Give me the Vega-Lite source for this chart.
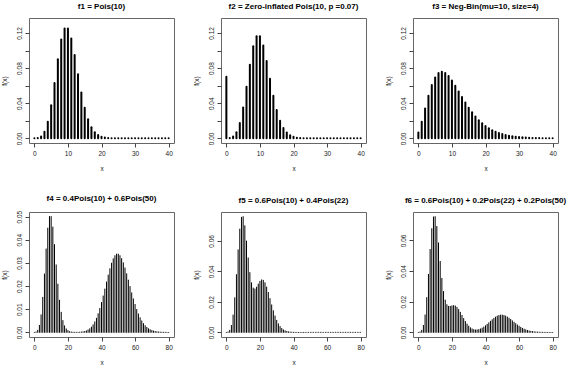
{
  "$schema": "https://vega.github.io/schema/vega-lite/v6.json",
  "padding": {"left": 0, "top": 2, "right": 0, "bottom": 0},
  "background": "white",
  "config": {
    "font": "Liberation Sans",
    "view": {"stroke": "#666", "strokeWidth": 1},
    "axis": {"domain": false, "grid": false, "tickColor": "#444", "tickSize": 4, "labelFont": "Liberation Sans", "labelFontSize": 6.5, "labelColor": "#222", "labelFlush": false, "labelOverlap": false, "titleFont": "Liberation Sans", "titleFontSize": 6.5, "titleFontWeight": "normal", "titleColor": "#222"},
    "axisX": {"labelPadding": 3, "titlePadding": 8.5},
    "axisY": {"labelAngle": -90, "labelAlign": "center", "labelBaseline": "bottom", "labelPadding": 3, "titlePadding": 9},
    "title": {"fontSize": 8, "fontWeight": "bold", "offset": 7.5, "color": "black", "font": "Liberation Sans", "anchor": "middle"}
  },
  "datasets": {
    "f1": [
      {"x":0,"y":0.0000454},{"x":1,"y":0.000454},{"x":2,"y":0.00227},{"x":3,"y":0.007567},{"x":4,"y":0.018917},{"x":5,"y":0.037833},{"x":6,"y":0.063056},{"x":7,"y":0.090079},{"x":8,"y":0.112599},{"x":9,"y":0.12511},{"x":10,"y":0.12511},{"x":11,"y":0.113736},{"x":12,"y":0.09478},{"x":13,"y":0.072908},{"x":14,"y":0.052077},{"x":15,"y":0.034718},{"x":16,"y":0.021699},{"x":17,"y":0.012764},{"x":18,"y":0.007091},{"x":19,"y":0.003732},{"x":20,"y":0.001866},{"x":21,"y":0.000889},{"x":22,"y":0.000404},{"x":23,"y":0.000176},{"x":24,"y":0.0000732},{"x":25,"y":0.0000293},{"x":26,"y":0.0000113},{"x":27,"y":0.0000042},{"x":28,"y":0.0000015},{"x":29,"y":0.0000005},{"x":30,"y":0.0000002},{"x":31,"y":0},{"x":32,"y":0},{"x":33,"y":0},{"x":34,"y":0},{"x":35,"y":0},{"x":36,"y":0},{"x":37,"y":0},{"x":38,"y":0},{"x":39,"y":0},{"x":40,"y":0}
    ],
    "f2": [
      {"x":0,"y":0.070042},{"x":1,"y":0.000422},{"x":2,"y":0.002111},{"x":3,"y":0.007037},{"x":4,"y":0.017592},{"x":5,"y":0.035185},{"x":6,"y":0.058642},{"x":7,"y":0.083774},{"x":8,"y":0.104717},{"x":9,"y":0.116352},{"x":10,"y":0.116352},{"x":11,"y":0.105774},{"x":12,"y":0.088146},{"x":13,"y":0.067804},{"x":14,"y":0.048432},{"x":15,"y":0.032288},{"x":16,"y":0.02018},{"x":17,"y":0.01187},{"x":18,"y":0.006595},{"x":19,"y":0.003471},{"x":20,"y":0.001735},{"x":21,"y":0.000826},{"x":22,"y":0.000376},{"x":23,"y":0.000163},{"x":24,"y":0.000068},{"x":25,"y":0.0000272},{"x":26,"y":0.0000105},{"x":27,"y":0.0000039},{"x":28,"y":0.0000014},{"x":29,"y":0.0000005},{"x":30,"y":0.0000002},{"x":31,"y":0},{"x":32,"y":0},{"x":33,"y":0},{"x":34,"y":0},{"x":35,"y":0},{"x":36,"y":0},{"x":37,"y":0},{"x":38,"y":0},{"x":39,"y":0},{"x":40,"y":0}
    ],
    "f3": [
      {"x":0,"y":0.006664},{"x":1,"y":0.01904},{"x":2,"y":0.034},{"x":3,"y":0.048571},{"x":4,"y":0.060713},{"x":5,"y":0.069387},{"x":6,"y":0.074343},{"x":7,"y":0.07586},{"x":8,"y":0.074506},{"x":9,"y":0.070958},{"x":10,"y":0.065889},{"x":11,"y":0.059899},{"x":12,"y":0.053482},{"x":13,"y":0.047017},{"x":14,"y":0.04078},{"x":15,"y":0.034954},{"x":16,"y":0.029649},{"x":17,"y":0.024915},{"x":18,"y":0.020762},{"x":19,"y":0.017172},{"x":20,"y":0.014105},{"x":21,"y":0.011515},{"x":22,"y":0.009346},{"x":23,"y":0.007547},{"x":24,"y":0.006064},{"x":25,"y":0.004851},{"x":26,"y":0.003865},{"x":27,"y":0.003068},{"x":28,"y":0.002426},{"x":29,"y":0.001912},{"x":30,"y":0.001502},{"x":31,"y":0.001177},{"x":32,"y":0.00092},{"x":33,"y":0.000717},{"x":34,"y":0.000557},{"x":35,"y":0.000432},{"x":36,"y":0.000334},{"x":37,"y":0.000258},{"x":38,"y":0.000199},{"x":39,"y":0.000153},{"x":40,"y":0.000118}
    ],
    "f4": [
      {"x":0,"y":0.0000182},{"x":1,"y":0.0001816},{"x":2,"y":0.000908},{"x":3,"y":0.003027},{"x":4,"y":0.007567},{"x":5,"y":0.015133},{"x":6,"y":0.025222},{"x":7,"y":0.036032},{"x":8,"y":0.04504},{"x":9,"y":0.050044},{"x":10,"y":0.050044},{"x":11,"y":0.045494},{"x":12,"y":0.037912},{"x":13,"y":0.029163},{"x":14,"y":0.020831},{"x":15,"y":0.013887},{"x":16,"y":0.00868},{"x":17,"y":0.005106},{"x":18,"y":0.002836},{"x":19,"y":0.001493},{"x":20,"y":0.000747},{"x":21,"y":0.000357},{"x":22,"y":0.000164},{"x":23,"y":0.0000756},{"x":24,"y":0.0000404},{"x":25,"y":0.0000339},{"x":26,"y":0.0000473},{"x":27,"y":0.0000808},{"x":28,"y":0.000142},{"x":29,"y":0.000244},{"x":30,"y":0.000406},{"x":31,"y":0.000655},{"x":32,"y":0.001024},{"x":33,"y":0.001552},{"x":34,"y":0.002282},{"x":35,"y":0.003259},{"x":36,"y":0.004527},{"x":37,"y":0.006118},{"x":38,"y":0.008049},{"x":39,"y":0.010319},{"x":40,"y":0.012899},{"x":41,"y":0.015731},{"x":42,"y":0.018728},{"x":43,"y":0.021776},{"x":44,"y":0.024746},{"x":45,"y":0.027496},{"x":46,"y":0.029887},{"x":47,"y":0.031795},{"x":48,"y":0.033119},{"x":49,"y":0.033795},{"x":50,"y":0.033795},{"x":51,"y":0.033133},{"x":52,"y":0.031858},{"x":53,"y":0.030055},{"x":54,"y":0.027829},{"x":55,"y":0.025299},{"x":56,"y":0.022588},{"x":57,"y":0.019814},{"x":58,"y":0.017081},{"x":59,"y":0.014476},{"x":60,"y":0.012063},{"x":61,"y":0.009888},{"x":62,"y":0.007974},{"x":63,"y":0.006329},{"x":64,"y":0.004944},{"x":65,"y":0.003803},{"x":66,"y":0.002881},{"x":67,"y":0.00215},{"x":68,"y":0.001581},{"x":69,"y":0.001146},{"x":70,"y":0.000818},{"x":71,"y":0.000576},{"x":72,"y":0.0004},{"x":73,"y":0.000274},{"x":74,"y":0.000185},{"x":75,"y":0.000123},{"x":76,"y":0.0000812},{"x":77,"y":0.0000528},{"x":78,"y":0.0000338},{"x":79,"y":0.0000214},{"x":80,"y":0.0000134}
    ],
    "f5": [
      {"x":0,"y":0.0000272},{"x":1,"y":0.000272},{"x":2,"y":0.001362},{"x":3,"y":0.00454},{"x":4,"y":0.011351},{"x":5,"y":0.022705},{"x":6,"y":0.037851},{"x":7,"y":0.054103},{"x":8,"y":0.067711},{"x":9,"y":0.075437},{"x":10,"y":0.075883},{"x":11,"y":0.069875},{"x":12,"y":0.059863},{"x":13,"y":0.048812},{"x":14,"y":0.039209},{"x":15,"y":0.03251},{"x":16,"y":0.029078},{"x":17,"y":0.02844},{"x":18,"y":0.029654},{"x":19,"y":0.031649},{"x":20,"y":0.033471},{"x":21,"y":0.034425},{"x":22,"y":0.034134},{"x":23,"y":0.032524},{"x":24,"y":0.029761},{"x":25,"y":0.026168},{"x":26,"y":0.022134},{"x":27,"y":0.018033},{"x":28,"y":0.014167},{"x":29,"y":0.010747},{"x":30,"y":0.007881},{"x":31,"y":0.005593},{"x":32,"y":0.003845},{"x":33,"y":0.002564},{"x":34,"y":0.001659},{"x":35,"y":0.001043},{"x":36,"y":0.000637},{"x":37,"y":0.000379},{"x":38,"y":0.000219},{"x":39,"y":0.000124},{"x":40,"y":0.0000681},{"x":41,"y":0.0000365},{"x":42,"y":0.0000191},{"x":43,"y":0.0000098},{"x":44,"y":0.0000049},{"x":45,"y":0.0000024},{"x":46,"y":0.0000011},{"x":47,"y":0.0000005},{"x":48,"y":0},{"x":49,"y":0},{"x":50,"y":0},{"x":51,"y":0},{"x":52,"y":0},{"x":53,"y":0},{"x":54,"y":0},{"x":55,"y":0},{"x":56,"y":0},{"x":57,"y":0},{"x":58,"y":0},{"x":59,"y":0},{"x":60,"y":0},{"x":61,"y":0},{"x":62,"y":0},{"x":63,"y":0},{"x":64,"y":0},{"x":65,"y":0},{"x":66,"y":0},{"x":67,"y":0},{"x":68,"y":0},{"x":69,"y":0},{"x":70,"y":0},{"x":71,"y":0},{"x":72,"y":0},{"x":73,"y":0},{"x":74,"y":0},{"x":75,"y":0},{"x":76,"y":0},{"x":77,"y":0},{"x":78,"y":0},{"x":79,"y":0},{"x":80,"y":0}
    ],
    "f6": [
      {"x":0,"y":0.0000272},{"x":1,"y":0.000272},{"x":2,"y":0.001362},{"x":3,"y":0.00454},{"x":4,"y":0.011351},{"x":5,"y":0.022702},{"x":6,"y":0.037842},{"x":7,"y":0.054075},{"x":8,"y":0.067635},{"x":9,"y":0.075252},{"x":10,"y":0.075474},{"x":11,"y":0.069058},{"x":12,"y":0.058365},{"x":13,"y":0.046278},{"x":14,"y":0.035228},{"x":15,"y":0.02667},{"x":16,"y":0.021049},{"x":17,"y":0.018049},{"x":18,"y":0.016955},{"x":19,"y":0.016944},{"x":20,"y":0.017295},{"x":21,"y":0.01748},{"x":22,"y":0.017189},{"x":23,"y":0.016316},{"x":24,"y":0.014906},{"x":25,"y":0.0131},{"x":26,"y":0.011085},{"x":27,"y":0.009044},{"x":28,"y":0.007131},{"x":29,"y":0.005455},{"x":30,"y":0.004076},{"x":31,"y":0.003015},{"x":32,"y":0.002264},{"x":33,"y":0.001799},{"x":34,"y":0.00159},{"x":35,"y":0.001608},{"x":36,"y":0.001828},{"x":37,"y":0.002229},{"x":38,"y":0.002793},{"x":39,"y":0.003502},{"x":40,"y":0.004334},{"x":41,"y":0.005262},{"x":42,"y":0.006252},{"x":43,"y":0.007264},{"x":44,"y":0.008251},{"x":45,"y":0.009166},{"x":46,"y":0.009963},{"x":47,"y":0.010598},{"x":48,"y":0.01104},{"x":49,"y":0.011265},{"x":50,"y":0.011265},{"x":51,"y":0.011044},{"x":52,"y":0.010619},{"x":53,"y":0.010018},{"x":54,"y":0.009276},{"x":55,"y":0.008433},{"x":56,"y":0.007529},{"x":57,"y":0.006605},{"x":58,"y":0.005694},{"x":59,"y":0.004825},{"x":60,"y":0.004021},{"x":61,"y":0.003296},{"x":62,"y":0.002658},{"x":63,"y":0.00211},{"x":64,"y":0.001648},{"x":65,"y":0.001268},{"x":66,"y":0.00096},{"x":67,"y":0.000717},{"x":68,"y":0.000527},{"x":69,"y":0.000382},{"x":70,"y":0.000273},{"x":71,"y":0.000192},{"x":72,"y":0.000133},{"x":73,"y":0.0000914},{"x":74,"y":0.0000617},{"x":75,"y":0.0000412},{"x":76,"y":0.0000271},{"x":77,"y":0.0000176},{"x":78,"y":0.0000113},{"x":79,"y":0.0000071},{"x":80,"y":0.0000045}
    ]
  },
  "columns": 3,
  "bounds": "flush",
  "spacing": {"row": 69, "column": 47},
  "concat": [
    {
      "width": 145, "height": 125,
      "title": "f1 = Pois(10)",
      "data": {"name": "f1"},
      "mark": {"type": "rule", "strokeWidth": 2, "color": "black", "strokeCap": "round"},
      "encoding": {
        "x": {"field": "x", "type": "quantitative", "scale": {"domain": [-1.6, 41.6], "nice": false, "zero": false}, "axis": {"values": [0, 10, 20, 30, 40], "title": "x"}},
        "y": {"field": "y", "type": "quantitative", "scale": {"domain": [-0.00527, 0.137], "nice": false, "zero": false}, "axis": {"values": [0, 0.02, 0.04, 0.06, 0.08, 0.1, 0.12], "labelExpr": "round(datum.value*100) % 4 == 0 ? format(datum.value, '.2f') : ''", "title": "f(x)"}},
        "y2": {"datum": 0}
      }
    },
    {
      "width": 145, "height": 125,
      "title": "f2 = Zero-inflated Pois(10, p =0.07)",
      "data": {"name": "f2"},
      "mark": {"type": "rule", "strokeWidth": 2, "color": "black", "strokeCap": "round"},
      "encoding": {
        "x": {"field": "x", "type": "quantitative", "scale": {"domain": [-1.6, 41.6], "nice": false, "zero": false}, "axis": {"values": [0, 10, 20, 30, 40], "title": "x"}},
        "y": {"field": "y", "type": "quantitative", "scale": {"domain": [-0.00527, 0.137], "nice": false, "zero": false}, "axis": {"values": [0, 0.02, 0.04, 0.06, 0.08, 0.1, 0.12], "labelExpr": "round(datum.value*100) % 4 == 0 ? format(datum.value, '.2f') : ''", "title": "f(x)"}},
        "y2": {"datum": 0}
      }
    },
    {
      "width": 145, "height": 125,
      "title": "f3 = Neg-Bin(mu=10, size=4)",
      "data": {"name": "f3"},
      "mark": {"type": "rule", "strokeWidth": 2, "color": "black", "strokeCap": "round"},
      "encoding": {
        "x": {"field": "x", "type": "quantitative", "scale": {"domain": [-1.6, 41.6], "nice": false, "zero": false}, "axis": {"values": [0, 10, 20, 30, 40], "title": "x"}},
        "y": {"field": "y", "type": "quantitative", "scale": {"domain": [-0.00527, 0.137], "nice": false, "zero": false}, "axis": {"values": [0, 0.02, 0.04, 0.06, 0.08, 0.1, 0.12], "labelExpr": "round(datum.value*100) % 4 == 0 ? format(datum.value, '.2f') : ''", "title": "f(x)"}},
        "y2": {"datum": 0}
      }
    },
    {
      "width": 145, "height": 125,
      "title": "f4 = 0.4Pois(10) + 0.6Pois(50)",
      "data": {"name": "f4"},
      "mark": {"type": "rule", "strokeWidth": 1, "color": "black", "strokeCap": "round"},
      "encoding": {
        "x": {"field": "x", "type": "quantitative", "scale": {"domain": [-3.2, 83.2], "nice": false, "zero": false}, "axis": {"values": [0, 20, 40, 60, 80], "title": "x"}},
        "y": {"field": "y", "type": "quantitative", "scale": {"domain": [-0.002, 0.052], "nice": false, "zero": false}, "axis": {"values": [0, 0.01, 0.02, 0.03, 0.04, 0.05], "format": ".2f", "title": "f(x)"}},
        "y2": {"datum": 0}
      }
    },
    {
      "width": 145, "height": 125,
      "title": "f5 = 0.6Pois(10) + 0.4Pois(22)",
      "data": {"name": "f5"},
      "mark": {"type": "rule", "strokeWidth": 1, "color": "black", "strokeCap": "round"},
      "encoding": {
        "x": {"field": "x", "type": "quantitative", "scale": {"domain": [-3.2, 83.2], "nice": false, "zero": false}, "axis": {"values": [0, 20, 40, 60, 80], "title": "x"}},
        "y": {"field": "y", "type": "quantitative", "scale": {"domain": [-0.003035, 0.078918], "nice": false, "zero": false}, "axis": {"values": [0, 0.02, 0.04, 0.06], "format": ".2f", "title": "f(x)"}},
        "y2": {"datum": 0}
      }
    },
    {
      "width": 145, "height": 125,
      "title": "f6 = 0.6Pois(10) + 0.2Pois(22) + 0.2Pois(50)",
      "data": {"name": "f6"},
      "mark": {"type": "rule", "strokeWidth": 1, "color": "black", "strokeCap": "round"},
      "encoding": {
        "x": {"field": "x", "type": "quantitative", "scale": {"domain": [-3.2, 83.2], "nice": false, "zero": false}, "axis": {"values": [0, 20, 40, 60, 80], "title": "x"}},
        "y": {"field": "y", "type": "quantitative", "scale": {"domain": [-0.003019, 0.078493], "nice": false, "zero": false}, "axis": {"values": [0, 0.02, 0.04, 0.06], "format": ".2f", "title": "f(x)"}},
        "y2": {"datum": 0}
      }
    }
  ]
}
